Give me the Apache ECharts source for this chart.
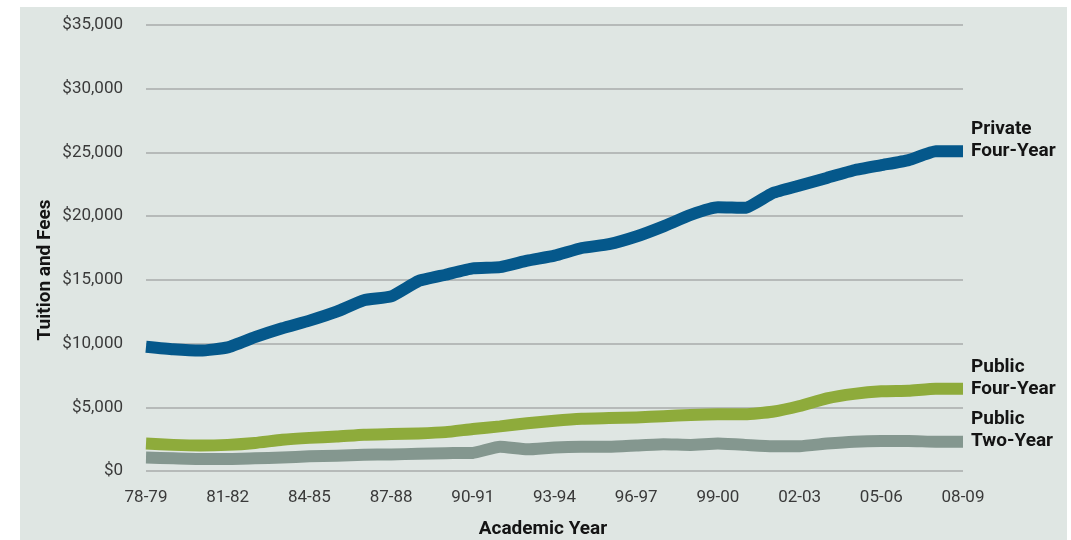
<!DOCTYPE html>
<html>
<head>
<meta charset="utf-8">
<script src="https://cdn.jsdelivr.net/npm/echarts@6/dist/echarts.min.js"></script>
<style>
  html, body { margin: 0; padding: 0; background: #ffffff; }
  #chart { width: 1071px; height: 540px; }
</style>
</head>
<body>
<div id="chart"></div>
<script>
var years = [
  "78-79", "79-80", "80-81", "81-82", "82-83", "83-84", "84-85", "85-86",
  "86-87", "87-88", "88-89", "89-90", "90-91", "91-92", "92-93", "93-94",
  "94-95", "95-96", "96-97", "97-98", "98-99", "99-00", "00-01", "01-02",
  "02-03", "03-04", "04-05", "05-06", "06-07", "07-08", "08-09"
];

var privateFour = [
  9750, 9550, 9450, 9700, 10500, 11200, 11800, 12500,
  13400, 13700, 14900, 15400, 15900, 16000, 16500, 16900,
  17500, 17800, 18400, 19200, 20100, 20700, 20650, 21800,
  22400, 23000, 23600, 24000, 24400, 25100, 25100
];

var publicFour = [
  2150, 2050, 2000, 2050, 2200, 2450, 2600, 2700,
  2850, 2900, 2950, 3050, 3300, 3500, 3750, 3950,
  4100, 4150, 4200, 4300, 4400, 4450, 4450, 4650,
  5100, 5700, 6050, 6250, 6300, 6450, 6450
];

var publicTwo = [
  1050, 1000, 950, 950, 1000, 1050, 1150, 1200,
  1280, 1300, 1350, 1400, 1420, 1900, 1700, 1850,
  1900, 1900, 2000, 2100, 2050, 2150, 2050, 1950,
  1950, 2150, 2300, 2350, 2350, 2300, 2300
];

var labelFont = "Roboto, 'Liberation Sans', sans-serif";

function money(v) {
  return "$" + v.toLocaleString("en-US");
}

function endLabel(text) {
  return {
    show: true,
    formatter: text,
    distance: 8,
    offset: [0, -11],
    align: "left",
    fontFamily: labelFont,
    fontWeight: "bold",
    fontSize: 19,
    lineHeight: 22,
    color: "#141414"
  };
}

function lineSeries(name, data, color, label) {
  return {
    name: name,
    type: "line",
    data: data,
    symbol: "none",
    smooth: 0.15,
    lineStyle: { width: 12, color: color, cap: "butt", join: "round" },
    endLabel: endLabel(label),
    emphasis: { disabled: true }
  };
}

var chart = echarts.init(document.getElementById("chart"));

chart.setOption({
  animation: false,
  backgroundColor: "#ffffff",
  graphic: [
    {
      type: "rect",
      z: -10,
      shape: { x: 20, y: 7, width: 1047, height: 533 },
      style: { fill: "#dfe6e3" }
    },
    {
      type: "text",
      x: 45, y: 270,
      rotation: Math.PI / 2,
      style: {
        text: "Tuition and Fees",
        fontFamily: labelFont, fontWeight: "bold", fontSize: 19,
        fill: "#141414", align: "center", verticalAlign: "middle"
      }
    },
    {
      type: "text",
      x: 543, y: 529,
      style: {
        text: "Academic Year",
        fontFamily: labelFont, fontWeight: "bold", fontSize: 19,
        fill: "#141414", align: "center", verticalAlign: "middle"
      }
    }
  ],
  grid: { left: 146, right: 108, top: 25, bottom: 69 },
  xAxis: {
    type: "category",
    data: years,
    boundaryGap: false,
    axisLine: { show: false },
    axisTick: { show: false },
    axisLabel: {
      interval: 2,
      margin: 18,
      fontFamily: labelFont,
      fontSize: 17,
      color: "#3a3a3a"
    },
    splitLine: { show: false }
  },
  yAxis: {
    type: "value",
    min: 0,
    max: 35000,
    interval: 5000,
    axisLine: { show: false },
    axisTick: { show: false },
    axisLabel: {
      margin: 23,
      fontFamily: labelFont,
      fontSize: 17,
      color: "#3a3a3a",
      formatter: money
    },
    splitLine: { lineStyle: { color: "#b6bab9", width: 2 } }
  },
  series: [
    lineSeries("Public Two-Year", publicTwo, "#84978f", "Public\nTwo-Year"),
    lineSeries("Public Four-Year", publicFour, "#8eab3b", "Public\nFour-Year"),
    lineSeries("Private Four-Year", privateFour, "#05588b", "Private\nFour-Year")
  ]
});
</script>
</body>
</html>
